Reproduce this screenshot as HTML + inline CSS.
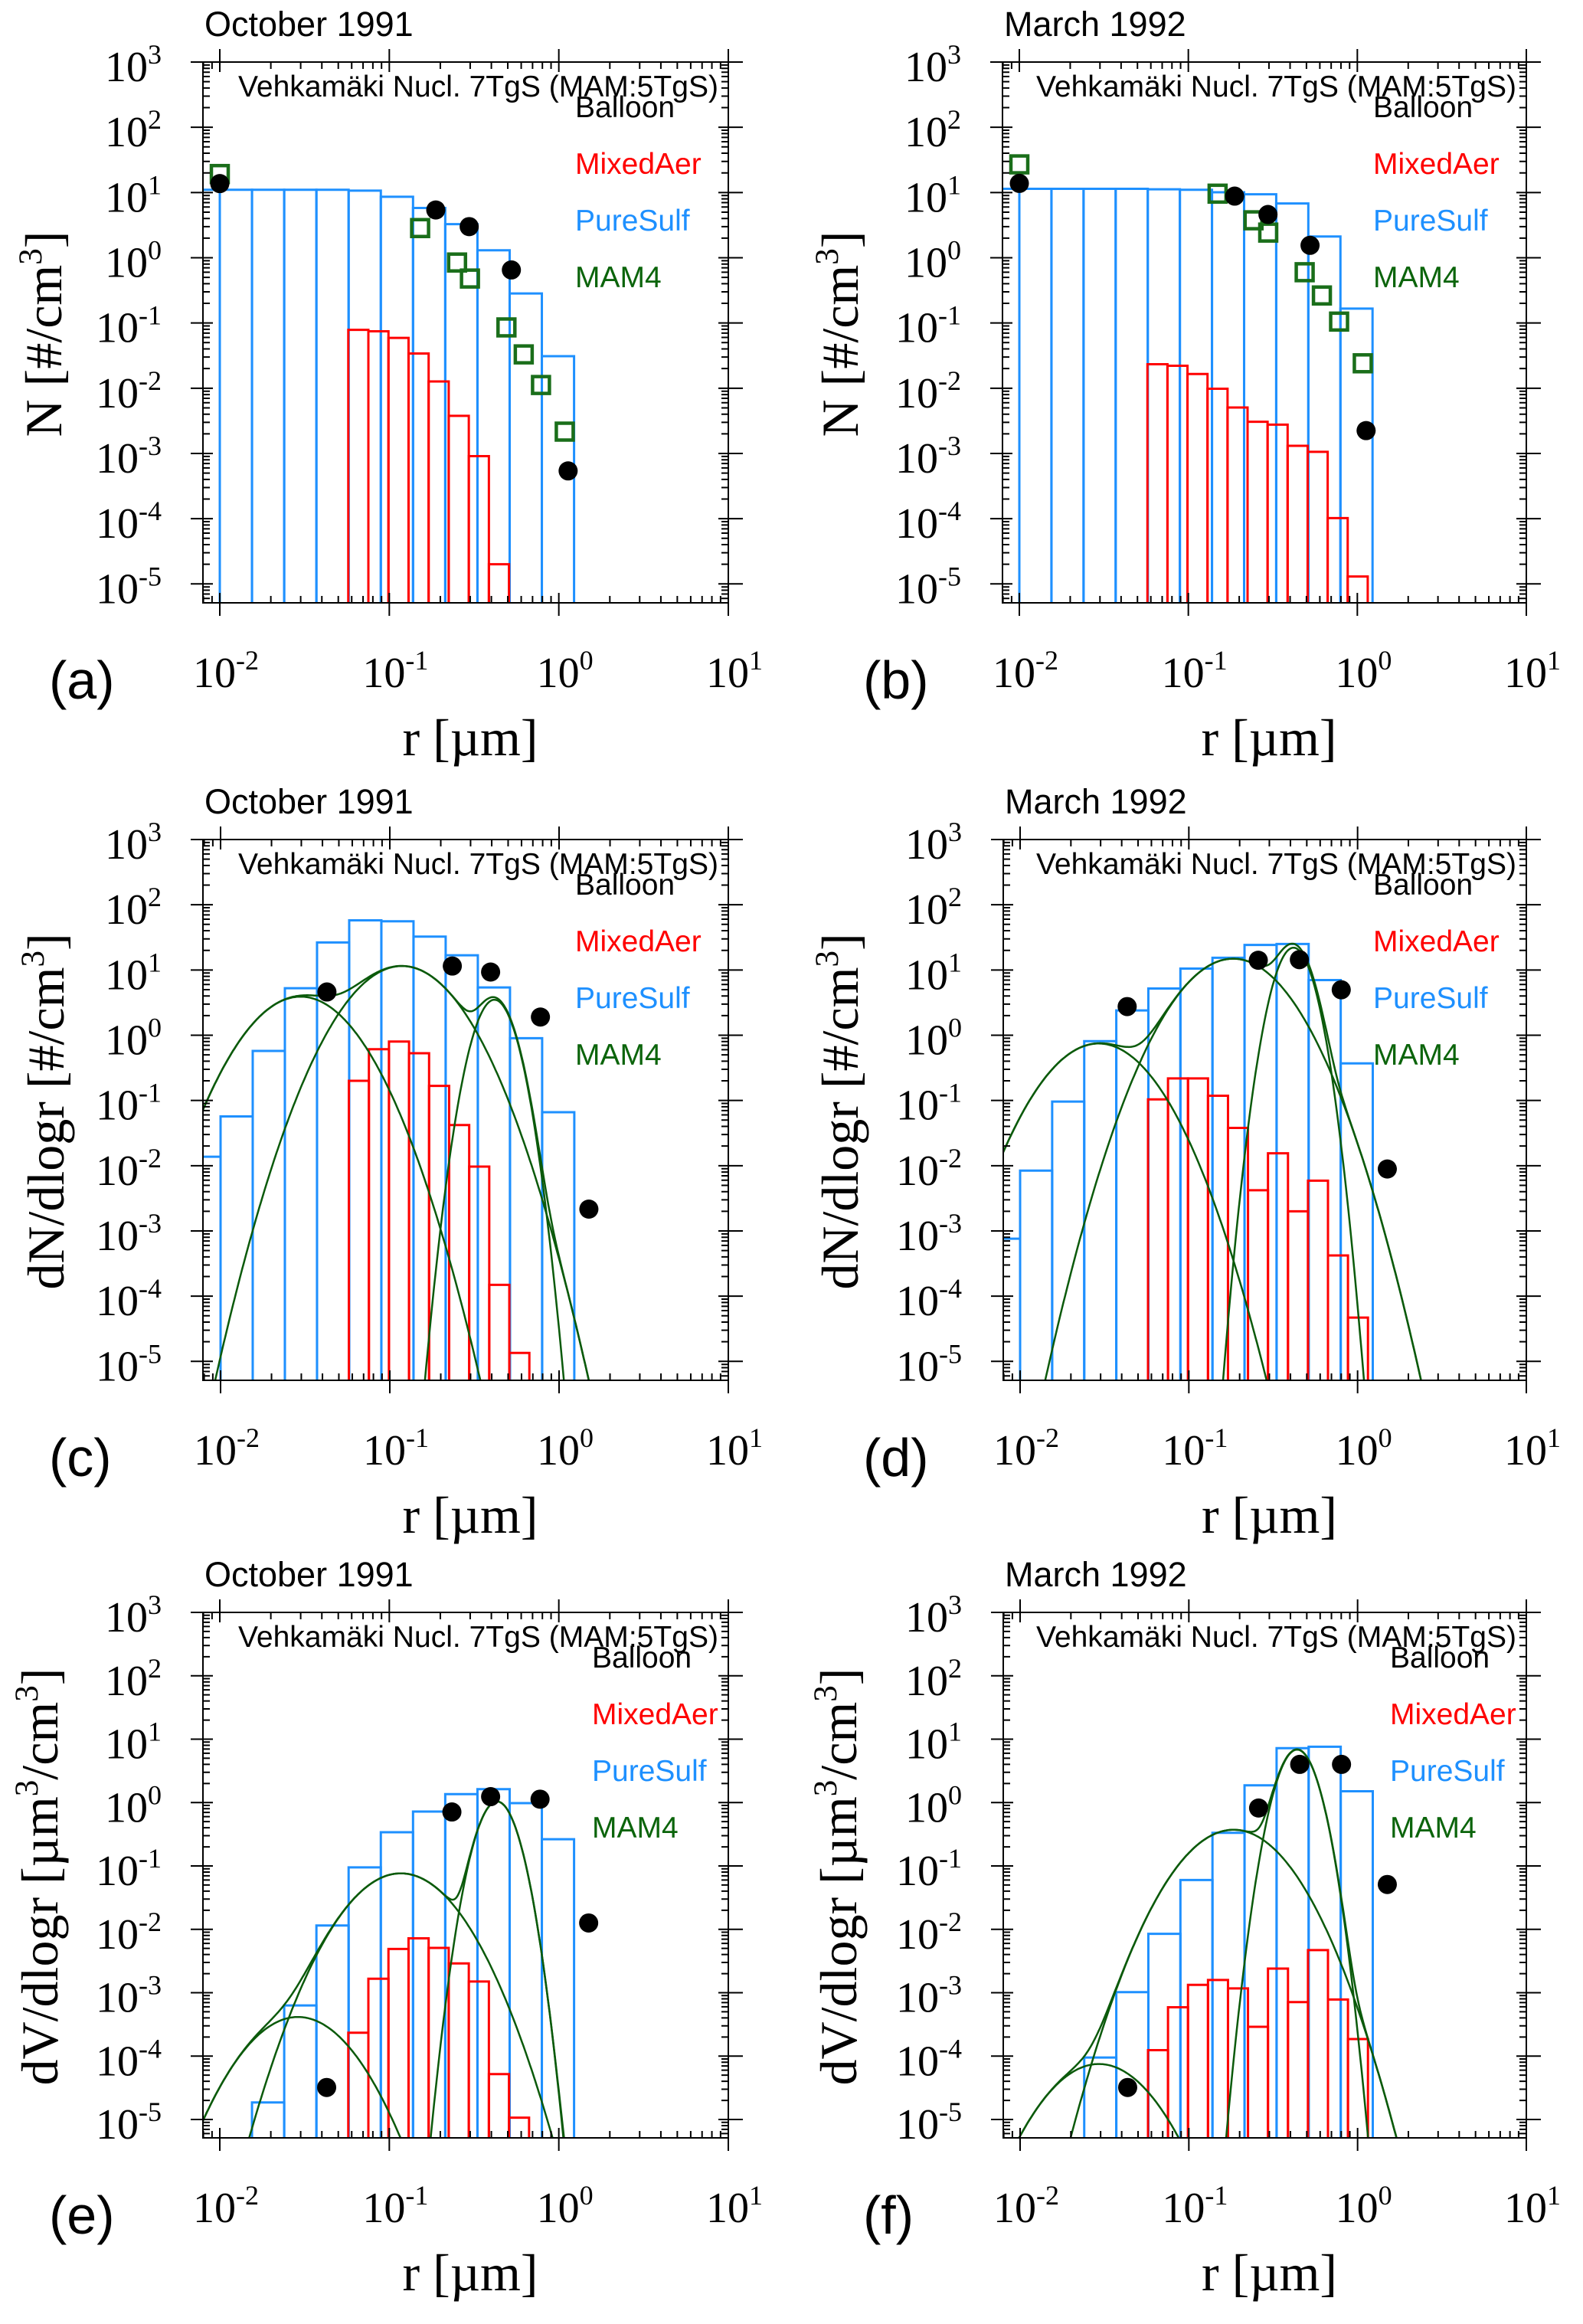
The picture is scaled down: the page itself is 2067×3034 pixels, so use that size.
<!DOCTYPE html>
<html><head><meta charset="utf-8">
<style>
html,body{margin:0;padding:0;background:#fff;}
svg{display:block;}
</style></head>
<body>
<svg id="fig" xmlns="http://www.w3.org/2000/svg" width="2067" height="3034" viewBox="0 0 2067 3034"></svg>
<script>
// ---- data ----
const blueEdgeStart = -2.19, blueStep = 0.19;   // log10 r [um] of bin edges
const redEdgeStart = -1.242, redStep = 0.1185;

const aBlue = [11,11,11,11,11,10.7,8.6,5.8,3.27,1.30,0.283,0.031];
const aRed = [0.0785,0.0745,0.059,0.034,0.0127,0.00377,0.00091,2e-5];
const aBalloonR = [0.01,0.188,0.296,0.525,1.135];
const aBalloonV = [13.7,5.4,3.0,0.65,0.00054];
const aMamR = [0.01,0.152,0.251,0.299,0.491,0.621,0.785,1.084];
const aMamV = [19.2,2.85,0.845,0.48,0.0855,0.033,0.0112,0.00216];

const bBlue = [11.4,11.4,11.4,11.4,11.4,11.2,11.0,10.1,9.4,6.8,2.12,0.166];
const bRed = [0.0233,0.0221,0.0165,0.0098,0.00506,0.00306,0.00276,0.00131,0.00106,0.000102,1.3e-5];
const bBalloonR = [0.01,0.188,0.296,0.525,1.127];
const bBalloonV = [13.8,8.8,4.6,1.55,0.00224];
const bMamR = [0.01,0.149,0.243,0.297,0.488,0.617,0.78,1.077];
const bMamV = [27,9.6,3.75,2.43,0.6,0.264,0.105,0.0241];

const cBlue = [0.0137,0.057,0.575,5.25,26.4,57.8,55.7,32.5,16.8,5.4,0.9,0.066];
const cRed = [0.2,0.61,0.8,0.53,0.167,0.042,0.0097,0.000149,1.35e-5];
const cBalloonR = [0.0425,0.234,0.394,0.776,1.5];
const cBalloonV = [4.6,11.5,9.3,1.9,0.00216];
const cModePeak = [3.9,11.5,3.5];
const cModeR = [0.0297,0.118,0.415];
const cModeSigma = [1.6,1.6,1.2];

const dBlue = [0.00076,0.0084,0.096,0.81,2.4,5.2,10.5,15.4,24.2,25,7.0,0.37];
const dRed = [0.104,0.218,0.218,0.118,0.038,0.0042,0.0155,0.002,0.0059,0.00042,4.7e-5];
const dBalloonR = [0.0431,0.258,0.452,0.80,1.5];
const dBalloonV = [2.75,14.1,14.4,4.97,0.0089];
const dModePeak = [0.746,14.9,22];
const dModeR = [0.0292,0.183,0.417];
const dModeSigma = [1.6,1.6,1.19];

const eBlue = [1e-8,1e-7,1.86e-5,0.00063,0.0115,0.095,0.34,0.72,1.36,1.63,0.98,0.264];
const eRed = [0.000234,0.00166,0.0049,0.0072,0.0051,0.0029,0.0015,5.2e-5,1.07e-5];
const eBalloonR = [0.0427,0.234,0.396,0.775,1.5];
const eBalloonV = [3.2e-5,0.71,1.24,1.13,0.0126];
const eModePeak = [0.000414,0.0764,1.04];
const eModeR = [0.0289,0.117,0.432];
const eModeSigma = [1.6,1.6,1.2];

const fBlue = [1e-8,1e-8,1e-7,9.5e-5,0.00102,0.0085,0.06,0.333,1.87,7.2,7.6,1.51];
const fRed = [0.000124,0.00059,0.00133,0.00159,0.00117,0.00029,0.0024,0.00071,0.0047,0.00078,0.000186];
const fBalloonR = [0.0434,0.259,0.454,0.803,1.5];
const fBalloonV = [3.2e-5,0.82,4.0,4.0,0.051];
const fModePeak = [7.5e-5,0.372,6.85];
const fModeR = [0.0293,0.184,0.438];
const fModeSigma = [1.6,1.6,1.2];

const yTickExp = [3,2,1,0,-1,-2,-3,-4,-5];
const xTickExp = [-2,-1,0,1];
const legendLabels = ["Balloon","MixedAer","PureSulf","MAM4"];
const legendColors = ["#000","#ff0000","#1e90ff","#0b640b"];

// ---- layout ----
const NS = "http://www.w3.org/2000/svg";
const svg = document.getElementById('fig');
const YMIN = -5.29, YMAX = 3;
const panels = [
 {id:'a', L:265, R:951, T:81, B:787, X2:287, title:'October 1991', ylab:'N', legX:751, blue:aBlue, red:aRed, balR:aBalloonR, balV:aBalloonV, mamR:aMamR, mamV:aMamV, ytx:58},
 {id:'b', L:1309, R:1993, T:81, B:787, X2:1331, title:'March 1992', ylab:'N', legX:1793, blue:bBlue, red:bRed, balR:bBalloonR, balV:bBalloonV, mamR:bMamR, mamV:bMamV, ytx:1098},
 {id:'c', L:265, R:951, T:1096, B:1802, X2:288, title:'October 1991', ylab:'dN', legX:751, blue:cBlue, red:cRed, balR:cBalloonR, balV:cBalloonV, mP:cModePeak, mR:cModeR, mS:cModeSigma, ytx:61},
 {id:'d', L:1310, R:1993, T:1096, B:1802, X2:1332, title:'March 1992', ylab:'dN', legX:1793, blue:dBlue, red:dRed, balR:dBalloonR, balV:dBalloonV, mP:dModePeak, mR:dModeR, mS:dModeSigma, ytx:1098},
 {id:'e', L:265, R:951, T:2105, B:2791, X2:287, title:'October 1991', ylab:'dV', legX:773, blue:eBlue, red:eRed, balR:eBalloonR, balV:eBalloonV, mP:eModePeak, mR:eModeR, mS:eModeSigma, ytx:53},
 {id:'f', L:1310, R:1993, T:2105, B:2791, X2:1332, title:'March 1992', ylab:'dV', legX:1815, blue:fBlue, red:fRed, balR:fBalloonR, balV:fBalloonV, mP:fModePeak, mR:fModeR, mS:fModeSigma, ytx:1096},
];

function el(tag, attrs, parent){
  const e = document.createElementNS(NS, tag);
  for (const k in attrs) e.setAttribute(k, attrs[k]);
  (parent||svg).appendChild(e);
  return e;
}
function xl(p, lg){ const s=(p.R-p.X2)/3; return p.X2 + (lg+2)*s; }
function xs(p, r){ return xl(p, Math.log10(r)); }
function yl(p, lg){ return p.T + (YMAX-lg)/(YMAX-YMIN)*(p.B-p.T); }
function ys(p, v){ return yl(p, Math.log10(v)); }

panels.forEach(p=>{
  const g = el('g', {});
  
  
  const cp = el('clipPath', {id:'clip-'+p.id}, g);
  el('rect', {x:p.L, y:p.T, width:p.R-p.L, height:p.B-p.T}, cp);
  const plot = el('g', {'clip-path':'url(#clip-'+p.id+')'}, g);
  
  

  p.blue.forEach((v,i)=>{
    const x0 = xl(p, blueEdgeStart+blueStep*i), x1 = xl(p, blueEdgeStart+blueStep*(i+1)), y = ys(p,v);
    const b = el('path', {d:`M${x0},${p.B+5}L${x0},${y}L${x1},${y}L${x1},${p.B+5}`, fill:'none', stroke:'#1e90ff', 'stroke-width':3}, plot);
    
    
  });
  p.red.forEach((v,i)=>{
    const x0 = xl(p, redEdgeStart+redStep*i), x1 = xl(p, redEdgeStart+redStep*(i+1)), y = ys(p,v);
    const b = el('path', {d:`M${x0},${p.B+5}L${x0},${y}L${x1},${y}L${x1},${p.B+5}`, fill:'none', stroke:'#ff0000', 'stroke-width':3}, plot);
    
    
  });
  if (p.mP){
    const x0 = (p.L - p.X2)/((p.R-p.X2)/3) - 2;
    const N = 400;
    const modeVal = (k, lg)=>{ const s=Math.log10(p.mS[k]); const d=lg-Math.log10(p.mR[k]); return p.mP[k]*Math.exp(-d*d/(2*s*s)); };
    for (let k=0;k<=p.mP.length;k++){
      let d='';
      for (let j=0;j<=N;j++){
        const lg = x0 + (1-x0)*j/N;
        let v;
        if (k<p.mP.length) v = modeVal(k,lg);
        else { v=0; for(let m=0;m<p.mP.length;m++) v+=modeVal(m,lg); }
        let y = ys(p, Math.max(v,1e-30)); y = Math.min(y, p.B+50);
        d += (j?'L':'M') + xl(p,lg).toFixed(1)+','+y.toFixed(1);
      }
      const c = el('path', {d, fill:'none', stroke:'#0b5a0b', 'stroke-width':2.5}, plot);
      
      
    }
  }
  if (p.mamR){
    p.mamR.forEach((r,i)=>{
      const s = el('rect', {x:xs(p,r)-11, y:ys(p,p.mamV[i])-11, width:22, height:22, fill:'none', stroke:'#1a6e1a', 'stroke-width':4.5}, g);
      
      
    });
  }
  p.balR.forEach((r,i)=>{
    const c = el('circle', {cx:xs(p,r), cy:ys(p,p.balV[i]), r:12.5, fill:'#000'}, g);
    
    
  });

  const fr = el('rect', {x:p.L, y:p.T, width:p.R-p.L, height:p.B-p.T, fill:'none', stroke:'#000', 'stroke-width':2}, g);
  
  

  let td = '';
  for (let e=-3;e<=1;e++){
    for (let m=1;m<10;m++){
      const lg = e+Math.log10(m); const x = xl(p,lg);
      if (x < p.L-0.5 || x > p.R+0.5) continue;
      if (m===1){ td += `M${x},${p.B+17}L${x},${p.B-13}M${x},${p.T-17}L${x},${p.T+13}`; }
      else { td += `M${x},${p.B}L${x},${p.B-9}M${x},${p.T}L${x},${p.T+9}`; }
    }
  }
  for (let e=-6;e<=3;e++){
    for (let m=1;m<10;m++){
      const lg = e+Math.log10(m); if (lg>YMAX+0.001||lg<YMIN) continue; const y = yl(p,lg);
      if (m===1){ td += `M${p.L-16},${y}L${p.L+13},${y}M${p.R-13},${y}L${p.R+19},${y}`; }
      else { td += `M${p.L},${y}L${p.L+9},${y}M${p.R},${y}L${p.R-9},${y}`; }
    }
  }
  const tk = el('path', {d:td, stroke:'#000', 'stroke-width':2, fill:'none'}, g);
  
  

  yTickExp.forEach(e=>{
    const y = yl(p,e);
    const t = el('text', {x:p.L-54, y:y+25, 'text-anchor':'end', 'font-family':'Liberation Serif, serif', 'font-size':56, fill:'#000'}, g);
    
    
    const t1 = el('tspan', {}, t); t1.textContent = '10';
    const t2 = el('tspan', {dy:-23, 'font-size':36}, t); t2.textContent = String(e);
  });
  xTickExp.forEach(e=>{
    const x = xl(p,e);
    const t = el('text', {x:x+8, y:p.B+110, 'text-anchor':'middle', 'font-family':'Liberation Serif, serif', 'font-size':56, fill:'#000'}, g);
    
    
    const t1 = el('tspan', {}, t); t1.textContent = '10';
    const t2 = el('tspan', {dy:-23, 'font-size':36}, t); t2.textContent = String(e);
  });

  const tt = el('text', {x:p.L+2, y:p.T-34, 'font-family':'Liberation Sans, sans-serif', 'font-size':45, fill:'#000'}, g);
  tt.textContent = p.title;
  
  

  const hd = el('text', {x:p.R-13, y:p.T+45, 'text-anchor':'end', 'font-family':'Liberation Sans, sans-serif', 'font-size':39, fill:'#000', textLength:627, lengthAdjust:'spacingAndGlyphs'}, g);
  hd.textContent = 'Vehkamäki Nucl. 7TgS (MAM:5TgS)';
  
  

  legendLabels.forEach((lab,i)=>{
    const t = el('text', {x:p.legX, y:p.T+72+i*74, 'font-family':'Liberation Sans, sans-serif', 'font-size':39, fill:legendColors[i]}, g);
    t.textContent = lab;
    
    
  });

  const pl = el('text', {x: p.L<600 ? 64 : 1127, y:p.B+125, 'font-family':'Liberation Sans, sans-serif', 'font-size':70, fill:'#000'}, g);
  pl.textContent = '('+p.id+')';
  
  

  const xt = el('text', {x:(p.L+p.R)/2+6, y:p.B+199, 'text-anchor':'middle', 'font-family':'Liberation Serif, serif', 'font-size':68, fill:'#000'}, g);
  xt.textContent = 'r [µm]';
  
  

  const cy = (p.T+p.B)/2 + 2;
  const yt = el('text', {x:0, y:0, 'text-anchor':'middle', 'font-family':'Liberation Serif, serif', 'font-size':68, fill:'#000', transform:`translate(${p.ytx+22},${cy}) rotate(-90)`}, g);
  
  
  let pre, post;
  if (p.ylab==='N'){ pre='N [#/cm'; post=']'; }
  else if (p.ylab==='dN'){ pre='dN/dlogr [#/cm'; post=']'; }
  else { pre='dV/dlogr [µm'; post=']'; }
  const s1 = el('tspan', {}, yt); s1.textContent = pre;
  const s2 = el('tspan', {dy:-26, 'font-size':43}, yt); s2.textContent = '3';
  if (p.ylab==='dV'){
    const s3 = el('tspan', {dy:26}, yt); s3.textContent = '/cm';
    const s4 = el('tspan', {dy:-26, 'font-size':43}, yt); s4.textContent = '3';
  }
  const s5 = el('tspan', {dy:26}, yt); s5.textContent = post;
});
</script>
</body></html>
